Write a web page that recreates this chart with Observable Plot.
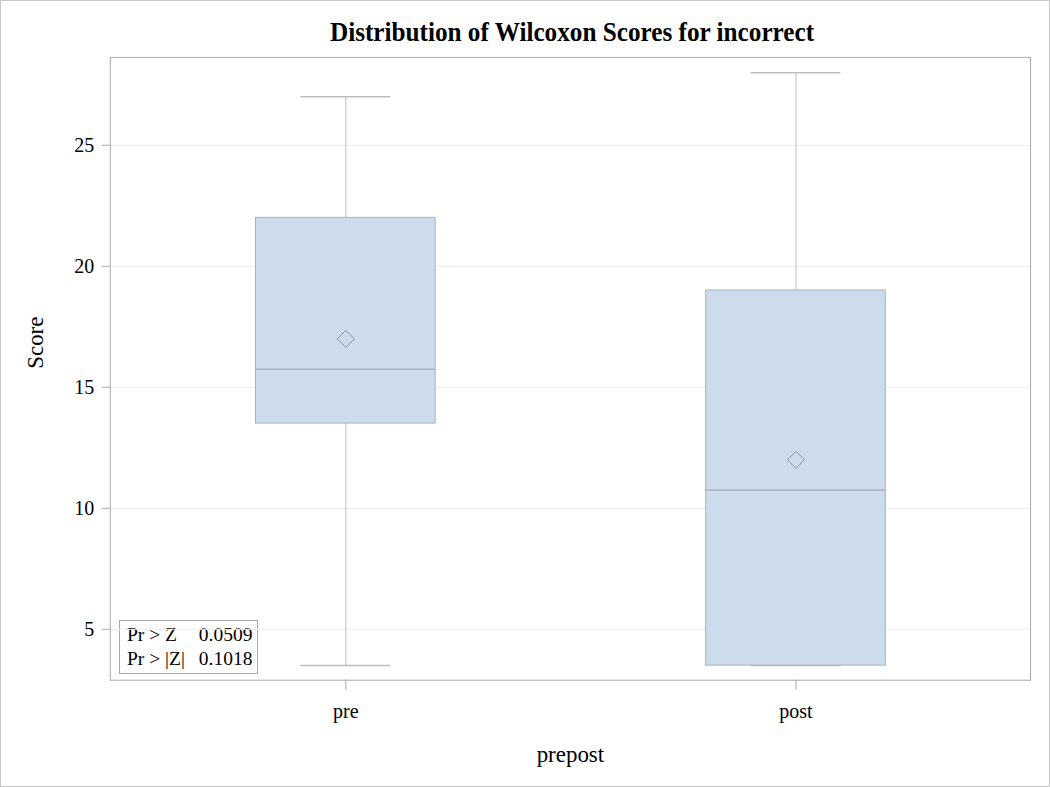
<!DOCTYPE html>
<html>
<head>
<meta charset="utf-8">
<script src="https://cdn.jsdelivr.net/npm/d3@7"></script>
<script src="https://cdn.jsdelivr.net/npm/@observablehq/plot@0.6"></script>
<style>
  html, body { margin: 0; padding: 0; background: #fff; }
  #wrap { position: relative; width: 1050px; height: 787px; box-sizing: border-box; border: 1px solid #c8c8c8; overflow: hidden; font-family: "Liberation Serif", "DejaVu Serif", serif; }
  #wrap svg { position: absolute; left: -1px; top: -1px; }
  #title { position: absolute; left: 110px; width: 922px; top: 15px; text-align: center; font-weight: bold; font-size: 28px; color: #000; transform: scaleX(0.9); transform-origin: 50% 50%; }
  #inset { position: absolute; left: 118px; top: 619px; border: 1px solid #a8a8a8; background: #fff; padding: 2px 5px 2px 7px; font-size: 19.5px; line-height: 24px; color: #000; }
  #inset td { padding: 0; }
  #inset td.v { padding-left: 14px; text-align: right; }
</style>
</head>
<body>
<div id="wrap">
  <div id="title"></div>
  <div id="inset"></div>
</div>
<script>
const titleText = "Distribution of Wilcoxon Scores for incorrect";
const groups = ["pre", "post"];
const whiskerLow = [3.5, 3.5];
const q1 = [13.5, 3.5];
const median = [15.75, 10.75];
const q3 = [22, 19];
const whiskerHigh = [27, 28];
const mean = [17, 12];
const yTicks = [5, 10, 15, 20, 25];
const xLabel = "prepost";
const yLabel = "Score";
const statLabels = ["Pr > Z", "Pr > |Z|"];
const statValues = ["0.0509", "0.1018"];

const data = groups.map((g, i) => ({
  group: g, low: whiskerLow[i], q1: q1[i], median: median[i], q3: q3[i], high: whiskerHigh[i], mean: mean[i]
}));

document.getElementById("title").textContent = titleText;
document.getElementById("inset").innerHTML = "<table cellspacing='0'>" +
  statLabels.map((l, i) => `<tr><td>${l.replace(/>/g, "&gt;")}</td><td class='v'>${statValues[i]}</td></tr>`).join("") + "</table>";

const fill = "#cddcec";
const boxStroke = "#a4b2c4";
const whiskerColor = "#bdbdbd";

const chart = Plot.plot({
  width: 1050,
  height: 787,
  marginLeft: 110,
  marginRight: 18,
  marginTop: 57,
  marginBottom: 106,
  style: { fontFamily: "'Liberation Serif', 'DejaVu Serif', serif", background: "transparent", color: "#000" },
  x: { domain: groups, paddingInner: 0.601, paddingOuter: 0.3215 },
  y: { domain: [2.897, 28.63] },
  marks: [
    Plot.gridY(yTicks, { stroke: "#ededed", strokeOpacity: 1 }),
    Plot.ruleX(data, { x: "group", y1: "low", y2: "q1", stroke: whiskerColor, strokeWidth: 1 }),
    Plot.ruleX(data, { x: "group", y1: "q3", y2: "high", stroke: whiskerColor, strokeWidth: 1 }),
    Plot.tickY(data, { x: "group", y: "low", stroke: whiskerColor, strokeWidth: 1.5, insetLeft: 45, insetRight: 45 }),
    Plot.tickY(data, { x: "group", y: "high", stroke: whiskerColor, strokeWidth: 1.5, insetLeft: 45, insetRight: 45 }),
    Plot.barY(data, { x: "group", y1: "q1", y2: "q3", fill: fill, stroke: boxStroke, strokeWidth: 1 }),
    Plot.tickY(data, { x: "group", y: "median", stroke: "#9eacbf", strokeWidth: 1.2 }),
    Plot.dot(data, { x: "group", y: "mean", symbol: "diamond2", r: 7.7, stroke: "#8492a6", strokeWidth: 1, fill: "none" }),
    Plot.frame({ stroke: "#a8a8a8", strokeWidth: 1 }),
    Plot.axisY(yTicks, { tickSize: 8, tickPadding: 8, fontSize: 20, stroke: "#a8a8a8", label: null }),
    Plot.axisX({ tickSize: 10, tickPadding: 14, fontSize: 20, stroke: "#a8a8a8", label: null }),
    Plot.text([yLabel], { frameAnchor: "left", dx: -75, rotate: -90, fontSize: 23, fill: "#000" }),
    Plot.text([xLabel], { frameAnchor: "bottom", dy: 82, fontSize: 23, fill: "#000" })
  ]
});
document.getElementById("wrap").appendChild(chart);
</script>
</body>
</html>
